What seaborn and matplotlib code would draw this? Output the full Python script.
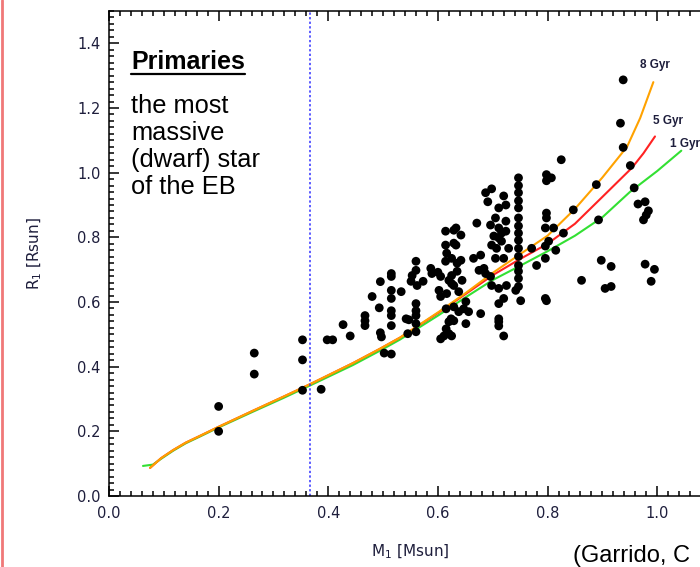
import matplotlib
matplotlib.use("Agg")
import matplotlib.pyplot as plt
from matplotlib.lines import Line2D
from matplotlib.ticker import MultipleLocator, FormatStrFormatter
import seaborn as sns

# eclipsing binaries, primary components
m1 = [0.200, 0.200, 0.265, 0.265, 0.353, 0.353, 0.353, 0.387, 0.398, 0.408,
      0.427, 0.440, 0.467, 0.467, 0.467, 0.480, 0.493, 0.495, 0.495, 0.497,
      0.502, 0.515, 0.515, 0.515, 0.515, 0.515, 0.515, 0.515, 0.515, 0.533,
      0.542, 0.545, 0.551, 0.553, 0.547, 0.560, 0.560, 0.562, 0.560, 0.560,
      0.560, 0.560, 0.560, 0.573, 0.587, 0.589, 0.600, 0.605, 0.602, 0.605,
      0.616, 0.620, 0.625, 0.615, 0.624, 0.620, 0.629, 0.615, 0.620, 0.611,
      0.605, 0.614, 0.629, 0.614, 0.629, 0.616, 0.614, 0.633, 0.642, 0.633,
      0.625, 0.635, 0.642, 0.625, 0.635, 0.644, 0.629, 0.638, 0.651, 0.647,
      0.638, 0.656, 0.678, 0.629, 0.651, 0.625, 0.671, 0.687, 0.698, 0.691,
      0.711, 0.724, 0.720, 0.696, 0.705, 0.711, 0.724, 0.716, 0.702, 0.711,
      0.724, 0.698, 0.707, 0.716, 0.729, 0.705, 0.720, 0.665, 0.678, 0.675,
      0.687, 0.696, 0.684, 0.698, 0.711, 0.725, 0.720, 0.711, 0.711, 0.711,
      0.711, 0.720, 0.742, 0.751,
      0.747, 0.747, 0.747, 0.747, 0.747, 0.747, 0.747, 0.747, 0.747, 0.747,
      0.747, 0.747, 0.747, 0.747, 0.747,
      0.771, 0.780, 0.796, 0.796, 0.802, 0.815, 0.796, 0.811, 0.829, 0.798,
      0.798, 0.847, 0.798, 0.807, 0.798, 0.825, 0.889, 0.893, 0.898, 0.862,
      0.796, 0.798, 0.905, 0.916, 0.916, 0.938, 0.933, 0.938, 0.951, 0.958,
      0.965, 0.978, 0.984, 0.980, 0.975, 0.978, 0.995, 0.989]
r1 = [0.277, 0.200, 0.442, 0.377, 0.483, 0.421, 0.327, 0.330, 0.483, 0.483,
      0.530, 0.495, 0.558, 0.542, 0.527, 0.617, 0.582, 0.663, 0.505, 0.492,
      0.442, 0.439, 0.688, 0.679, 0.636, 0.611, 0.573, 0.558, 0.527, 0.632,
      0.548, 0.502, 0.664, 0.682, 0.545, 0.726, 0.698, 0.651, 0.595, 0.573,
      0.558, 0.533, 0.508, 0.664, 0.704, 0.688, 0.692, 0.679, 0.636, 0.617,
      0.626, 0.667, 0.657, 0.579, 0.548, 0.539, 0.585, 0.517, 0.502, 0.495,
      0.486, 0.819, 0.822, 0.776, 0.782, 0.751, 0.726, 0.829, 0.807, 0.776,
      0.735, 0.720, 0.729, 0.682, 0.695, 0.667, 0.651, 0.632, 0.601, 0.579,
      0.570, 0.570, 0.564, 0.542, 0.533, 0.495, 0.844, 0.938, 0.950, 0.910,
      0.891, 0.900, 0.928, 0.838, 0.860, 0.829, 0.850, 0.813, 0.804, 0.798,
      0.819, 0.776, 0.766, 0.788, 0.766, 0.735, 0.735, 0.735, 0.745, 0.698,
      0.688, 0.679, 0.704, 0.651, 0.642, 0.651, 0.611, 0.595, 0.548, 0.539,
      0.526, 0.495, 0.636, 0.604,
      0.984, 0.960, 0.938, 0.913, 0.891, 0.860, 0.835, 0.813, 0.791, 0.766,
      0.741, 0.713, 0.695, 0.673, 0.648,
      0.766, 0.713, 0.735, 0.773, 0.788, 0.760, 0.829, 0.829, 0.813, 0.875,
      0.860, 0.885, 0.994, 0.984, 0.975, 1.040, 0.963, 0.854, 0.729, 0.667,
      0.611, 0.604, 0.642, 0.648, 0.710, 1.287, 1.153, 1.078, 1.022, 0.953,
      0.903, 0.910, 0.882, 0.869, 0.854, 0.717, 0.701, 0.664]

# isochrones
iso8_m = [0.075, 0.095, 0.117, 0.140, 0.166, 0.200, 0.263, 0.318, 0.367, 0.445,
          0.495, 0.531, 0.602, 0.650, 0.700, 0.750, 0.800, 0.850, 0.900, 0.945,
          0.969, 0.993]
iso8_r = [0.087, 0.117, 0.142, 0.165, 0.186, 0.214, 0.264, 0.307, 0.346, 0.411,
          0.456, 0.490, 0.570, 0.627, 0.690, 0.748, 0.805, 0.888, 0.985, 1.080,
          1.169, 1.280]
iso5_m = [0.075, 0.095, 0.117, 0.140, 0.166, 0.200, 0.263, 0.318, 0.367, 0.445,
          0.495, 0.531, 0.602, 0.650, 0.700, 0.750, 0.800, 0.850, 0.900, 0.954,
          0.975, 0.996]
iso5_r = [0.087, 0.117, 0.142, 0.165, 0.186, 0.214, 0.264, 0.307, 0.346, 0.411,
          0.456, 0.490, 0.568, 0.624, 0.683, 0.733, 0.780, 0.842, 0.925, 1.015,
          1.060, 1.112]
iso1_m = [0.062, 0.080, 0.095, 0.117, 0.140, 0.166, 0.200, 0.263, 0.318, 0.367,
          0.445, 0.495, 0.531, 0.602, 0.650, 0.700, 0.750, 0.800, 0.850, 0.900,
          0.950, 1.000, 1.044]
iso1_r = [0.093, 0.097, 0.115, 0.140, 0.163, 0.184, 0.212, 0.261, 0.303, 0.342,
          0.405, 0.450, 0.484, 0.560, 0.614, 0.668, 0.712, 0.757, 0.805, 0.862,
          0.940, 1.005, 1.068]
iso_labels = ["8 Gyr", "5 Gyr", "1 Gyr"]

m_cut = 0.367

sns.set_style("ticks")
plt.rcParams['font.family'] = ['DejaVu Sans']
ink = '#1e1e3c'

fig = plt.figure(figsize=(7, 5.67), dpi=100)
ax = fig.add_axes([109 / 700, 71 / 567, 603 / 700, 485 / 567])

line_kw = dict(lw=1.5, sort=False, estimator=None, ax=ax, solid_joinstyle='round', solid_capstyle='round')
sns.lineplot(x=iso1_m, y=iso1_r, color='#33e033', **line_kw)
sns.lineplot(x=iso5_m, y=iso5_r, color='#ff2222', **line_kw)
sns.lineplot(x=iso8_m, y=iso8_r, color='#ffa200', **line_kw)
sns.scatterplot(x=m1, y=r1, color='black', s=40, edgecolor='none', ax=ax, zorder=3)
ax.axvline(m_cut, color='#3030ff', lw=1.1, ls=(0, (1.5, 1.5)))

lab_kw = dict(fontsize=8.5, fontweight='bold', color=ink, va='center', family='Liberation Sans')
ax.text(0.969, 1.333, iso_labels[0], **lab_kw)
ax.text(0.993, 1.160, iso_labels[1], **lab_kw)
ax.text(1.024, 1.089, iso_labels[2], **lab_kw)

ax.set_xlim(0, 1.1)
ax.set_ylim(0, 1.5)
ax.xaxis.set_major_locator(MultipleLocator(0.2))
ax.xaxis.set_minor_locator(MultipleLocator(0.02))
ax.yaxis.set_major_locator(MultipleLocator(0.2))
ax.yaxis.set_minor_locator(MultipleLocator(0.02))
ax.xaxis.set_major_formatter(FormatStrFormatter('%.1f'))
ax.yaxis.set_major_formatter(FormatStrFormatter('%.1f'))
ax.tick_params(which='both', direction='in', top=True, right=True, width=1.1,
               color='black', labelcolor=ink, labelsize=10.5)
ax.tick_params(which='major', length=7)
ax.tick_params(which='minor', length=3.5)
ax.tick_params(axis='x', pad=7)
ax.tick_params(axis='y', pad=6)
for s in ax.spines.values():
    s.set_linewidth(1.1)
    s.set_color('black')

ax.set_xlabel("M$_1$ [Msun]", fontsize=11, color=ink)
ax.set_ylabel("R$_1$ [Rsun]", fontsize=11, color=ink)
ax.xaxis.set_label_coords(0.5, -0.097)
ax.yaxis.set_label_coords(-0.108, 0.5)

# slide text
title = fig.text(131 / 700, 1 - 69 / 567, "Primaries", fontsize=18, fontweight='bold',
                 family='Liberation Sans', va='baseline', color='black')
fig.text(131 / 700, 1 - 94 / 567, "the most\nmassive\n(dwarf) star\nof the EB", fontsize=18.3,
         family='Liberation Sans', va='top', linespacing=1.15, color='black')
fig.text(573 / 700, 1 - 545 / 567, "(Garrido, C", fontsize=17, family='Liberation Sans',
         va='top', color='black')

fig.canvas.draw()
bb = title.get_window_extent().transformed(fig.transFigure.inverted())
uy = 1 - 74 / 567
fig.add_artist(Line2D([bb.x0, bb.x1], [uy, uy], transform=fig.transFigure, color='black', lw=1.6))
fig.add_artist(Line2D([1.5 / 700, 1.5 / 700], [0, 1], transform=fig.transFigure, color='#f07878', lw=2))

fig.savefig('out.png', dpi=100)
